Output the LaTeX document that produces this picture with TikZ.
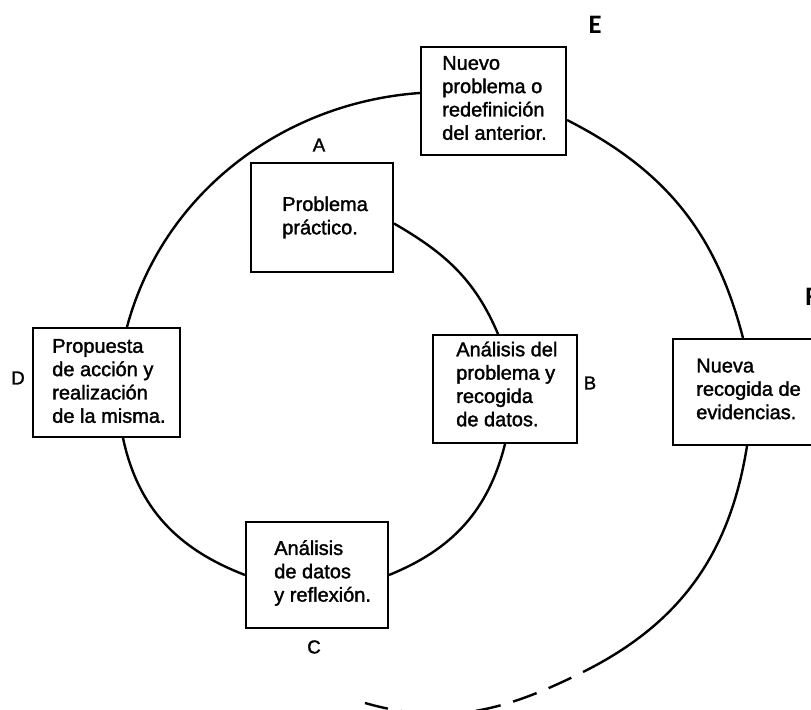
\documentclass[tikz,border=0pt]{standalone}
\usepackage{fontspec}
\setmainfont{Liberation Sans}
\newfontfamily\inkfont{Liberation Sans}[FakeBold=1.6]
\newfontfamily\phasefont{Carlito}
\usetikzlibrary{calc}
\begin{document}
\begin{tikzpicture}[x=0.75pt,y=0.75pt,
  stage/.style={draw, line width=1.5pt, inner sep=0pt},
  stagetext/.style={anchor=west, align=left, inner sep=0pt,
    font=\inkfont\fontsize{15}{17.5}\selectfont},
  tag/.style={font=\inkfont\fontsize{14}{16}\selectfont, inner sep=0pt},
  bigtag/.style={font=\phasefont\bfseries\fontsize{20}{24}\selectfont, inner sep=0pt},
  cycle/.style={line width=1.8pt},
  open/.style={cycle, dash pattern=on 18.75pt off 9.75pt, dash phase=18.75pt},
]
\useasboundingbox (0,0) rectangle (811,710);
\fill[white] (0,0) rectangle (811,710);

% stage boxes
\node[stage, minimum width=106.5pt, minimum height=81.75pt] (A) at (322,492.5) {};
\node[stage, minimum width=108pt,   minimum height=81pt]    (B) at (505,321) {};
\node[stage, minimum width=106.5pt, minimum height=79.5pt]  (C) at (317,135) {};
\node[stage, minimum width=110.25pt,minimum height=81.75pt] (D) at (106.5,327.5) {};
\node[stage, minimum width=108.75pt,minimum height=81pt]    (E) at (493.5,609) {};
\node[stage, minimum width=117.75pt,minimum height=79.5pt]  (F) at (751.5,318) {};

% stage texts
\node[stagetext] (At) at ($(A.west)+(32,0)$) {Problema\\práctico.};
\node[stagetext] (Bt) at ($(B.west)+(24,5)$) {Análisis del\\problema y\\recogida\\de datos.};
\node[stagetext] (Ct) at ($(C.west)+(29,2)$) {Análisis\\de datos\\y reflexión.};
\node[stagetext] (Dt) at ($(D.west)+(20,1.5)$) {Propuesta\\de acción y\\realización\\de la misma.};
\node[stagetext] (Et) at ($(E.west)+(22,3)$) {Nuevo\\problema o\\redefinición\\del anterior.};
\node[stagetext] (Ft) at ($(F.west)+(24,3)$) {Nueva\\recogida de\\evidencias.};

% stage letters
\node[tag] (la) at (319,565) {A};
\node[tag] (lb) at (590,327) {B};
\node[tag] (lc) at (314,63) {C};
\node[tag] (ld) at (18,332) {D};
\node[bigtag] (le) at (595,685) {E};
\node[bigtag, anchor=west] (lf) at (805,413.5) {F};

% spiral of the cycle
\coordinate (s) at (583,38);
\coordinate (t) at (365,7);
\draw[cycle] ($(A.east)+(0,-6)$) to[out=-30, in=113] ($(B.north)+(-7,0)$);
\draw[cycle] (B.south) to[out=-104, in=22] (C.east);
\draw[cycle] (C.west) to[out=159, in=-78] ($(D.south)+(16.5,0)$);
\draw[cycle] ($(D.north)+(20.5,0)$) to[out=75, in=184, looseness=0.94] ($(E.west)+(0,8)$);
\draw[cycle] ($(E.east)+(0,-19)$) to[out=-27, in=104.5] ($(F.north)+(-8.5,0)$);
\draw[cycle] ($(F.south)+(-4.5,0)$) to[out=-99, in=26.5] (s);
\draw[open] (s) to[out=-153.5, in=-16] (t);
\end{tikzpicture}
\end{document}
